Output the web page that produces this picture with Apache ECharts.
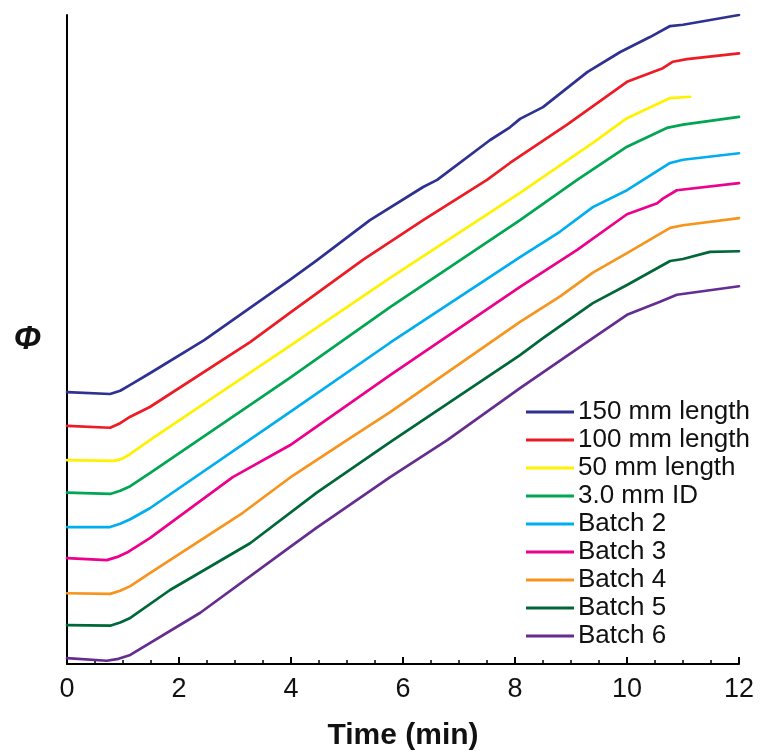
<!DOCTYPE html>
<html>
<head>
<meta charset="utf-8">
<script src="https://cdn.jsdelivr.net/npm/echarts@6/dist/echarts.min.js"></script>
<style>
html,body{margin:0;padding:0;background:#fff;}
#chart{width:760px;height:756px;}
</style>
</head>
<body>
<div id="chart"></div>
<script>
// Series names (legend order)
const seriesNames = ['150 mm length','100 mm length','50 mm length','3.0 mm ID','Batch 2','Batch 3','Batch 4','Batch 5','Batch 6'];
const seriesColors = ['#2e3192','#ed1c24','#fff200','#00a651','#00aeef','#ec008c','#f7941d','#006838','#662d91'];
const xTicks = [0,2,4,6,8,10,12];

// [time (min), phi (arbitrary offset units)]
const len150 = [[0,41.9],[0.77,41.6],[0.95,42.1],[1.13,43.0],[1.48,44.8],[2.45,49.9],[3.98,59.2],[4.46,62.2],[5.41,68.4],[6.36,73.5],[6.61,74.6],[7.55,80.7],[7.91,82.7],[8.09,84.0],[8.5,85.8],[9.29,91.2],[9.88,94.3],[10.41,96.6],[10.77,98.3],[11.0,98.5],[12,100]];
const len100 = [[0,36.7],[0.77,36.4],[0.95,37.1],[1.13,38.1],[1.48,39.6],[3.27,49.6],[3.98,54.1],[5.29,62.3],[6.36,68.4],[7.5,74.6],[7.91,77.2],[8.93,83.1],[10.0,89.7],[10.64,91.8],[10.82,92.8],[11.07,93.2],[12,94.1]];
const len50 = [[0,31.4],[0.84,31.3],[0.98,31.6],[1.1,32.2],[1.48,34.5],[3.98,49.0],[5.77,59.5],[8.09,72.6],[9.39,80.3],[10.0,84.1],[10.77,87.2],[11.13,87.4]];
const id30 = [[0,26.4],[0.77,26.2],[0.95,26.7],[1.13,27.4],[1.48,29.4],[3.98,44.1],[5.77,55.0],[8.09,68.4],[9.11,74.6],[10.0,79.7],[10.71,82.6],[11.0,83.1],[12,84.3]];
const batch2 = [[0,21.1],[0.77,21.1],[0.95,21.6],[1.13,22.3],[1.48,24.0],[3.98,38.8],[5.77,49.5],[8.09,62.7],[8.8,66.6],[9.39,70.4],[10.0,73.0],[10.77,77.2],[11.0,77.7],[12,78.7]];
const batch3 = [[0,16.3],[0.71,16.0],[0.9,16.5],[1.1,17.3],[1.48,19.4],[2.96,28.8],[3.98,33.7],[5.77,44.5],[8.09,58.1],[9.11,63.8],[10.0,69.3],[10.54,71.0],[10.64,71.7],[10.89,73.0],[12,74.1]];
const batch4 = [[0,10.9],[0.77,10.8],[0.95,11.3],[1.13,12.0],[1.48,14.0],[3.14,23.3],[3.98,28.7],[5.0,34.5],[5.77,38.8],[8.09,52.7],[8.8,56.6],[9.39,60.3],[10.0,63.3],[10.77,67.2],[11.0,67.6],[12,68.7]];
const batch5 = [[0,6.0],[0.77,5.9],[0.95,6.4],[1.13,7.1],[1.84,11.4],[3.27,18.6],[4.46,26.4],[5.77,34.2],[8.09,47.6],[8.5,50.2],[9.39,55.6],[10.0,58.4],[10.77,62.1],[11.0,62.4],[11.48,63.5],[12,63.6]];
const batch6 = [[0,0.9],[0.71,0.5],[0.92,0.8],[1.13,1.4],[2.38,7.9],[3.98,18.0],[4.46,21.0],[5.77,28.8],[6.79,34.5],[8.09,42.5],[9.39,50.2],[10.0,53.8],[10.59,55.8],[10.89,56.9],[12,58.2]];

const seriesData = [len150,len100,len50,id30,batch2,batch3,batch4,batch5,batch6];

const chart = echarts.init(document.getElementById('chart'), null, {renderer:'canvas'});
const font = '"Liberation Sans", Arial, sans-serif';

chart.setOption({
  animation:false,
  backgroundColor:'#ffffff',
  grid:{left:67, right:21, top:15, bottom:92, containLabel:false},
  legend:{
    orient:'vertical',
    left:526, top:399, padding:0,
    itemWidth:48, itemHeight:3, itemGap:2,
    icon:'rect',
    textStyle:{fontFamily:font, fontSize:26, color:'#111', lineHeight:26, padding:[0,0,0,-1]},
    data:seriesNames
  },
  xAxis:{
    type:'value', min:0, max:12, interval:2,
    name:'Time (min)', nameLocation:'middle', nameGap:57,
    nameTextStyle:{fontFamily:font, fontSize:30, fontWeight:'bold', color:'#111'},
    axisLine:{show:true, onZero:false, lineStyle:{color:'#000', width:2}},
    axisTick:{show:true, inside:true, length:7, lineStyle:{color:'#000', width:2}},
    minorTick:{show:true, splitNumber:4, length:4, lineStyle:{color:'#000', width:1.5}},
    axisLabel:{fontFamily:font, fontSize:27, color:'#111', margin:12,
      formatter:function(v){return xTicks.indexOf(v)>=0 ? String(v) : '';}},
    splitLine:{show:false}
  },
  yAxis:{
    type:'value', min:0, max:100,
    name:'Φ', nameLocation:'middle', nameGap:26, nameRotate:0,
    nameTextStyle:{fontFamily:font, fontSize:33, fontWeight:'bold', fontStyle:'italic', color:'#111', padding:[0,0,8,0]},
    axisLine:{show:true, onZero:false, lineStyle:{color:'#000', width:2}},
    axisTick:{show:false}, axisLabel:{show:false}, splitLine:{show:false}
  },
  series: seriesNames.map(function(n,i){
    return {
      name:n, type:'line', data:seriesData[i],
      symbol:'none', smooth:false,
      lineStyle:{color:seriesColors[i], width:2.7, join:'round', cap:'round'},
      itemStyle:{color:seriesColors[i]},
      z: 10 - i
    };
  })
});
</script>
</body>
</html>
